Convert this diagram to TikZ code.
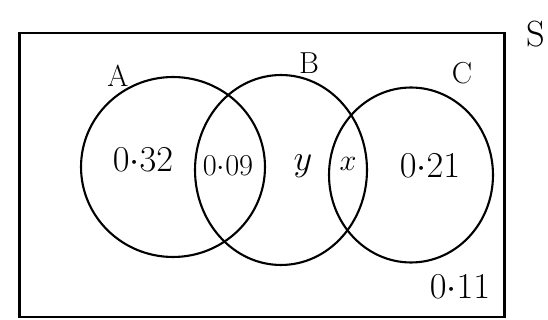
\documentclass[tikz,border=0pt]{standalone}
\usepackage{tikz}
\usetikzlibrary{shapes.geometric}

\begin{document}
\begin{tikzpicture}[
    x=0.02cm, y=-0.02cm,
    setcircle/.style={ellipse, draw, line width=1.2pt, inner sep=0pt},
    region/.style={font=\huge},
    setname/.style={font=\LARGE}
]
\useasboundingbox (0,0) rectangle (548,320);
% sample space
\node[draw, line width=1.2pt, minimum width=9.7cm, minimum height=5.68cm, inner sep=0pt] (S) at (262,175) {};
\node[font=\huge] (Slbl) at (536,34) {S};

% the three events
\node[setcircle, minimum width=3.68cm, minimum height=3.6cm] (A) at (173,167) {};
\node[setcircle, minimum width=3.44cm, minimum height=3.8cm] (B) at (281,170) {};
\node[setcircle, minimum width=3.28cm, minimum height=3.5cm] (C) at (411,175) {};

\node[setname] (Albl) at (118,76) {A};
\node[setname] (Blbl) at (309,63) {B};
\node[setname] (Clbl) at (462,73) {C};

% probabilities
\node[region] (pA) at (143,160) {$0{\cdot}32$};
\node[region, font=\LARGE] (pAB) at (228,166) {$0{\cdot}09$};
\node[region] (pB) at (303,166) {$y$};
\node[region, font=\LARGE] (pBC) at (348,164) {$x$};
\node[region] (pC) at (430,166) {$0{\cdot}21$};
\node[region] (pOut) at (460,287) {$0{\cdot}11$};
\end{tikzpicture}
\end{document}
